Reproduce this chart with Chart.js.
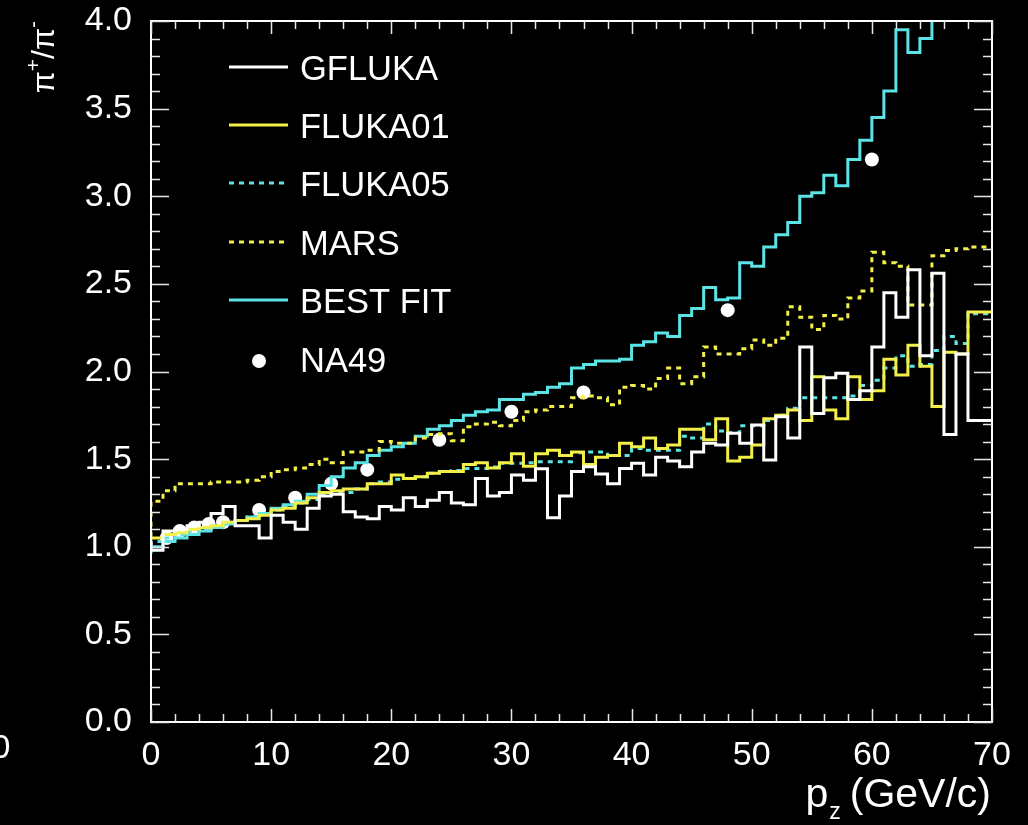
<!DOCTYPE html>
<html>
<head>
<meta charset="utf-8">
<script src="https://cdn.jsdelivr.net/npm/chart.js@4.4.1/dist/chart.umd.min.js"></script>
<style>
  html, body { margin: 0; padding: 0; background: #000; }
  #wrap { width: 1028px; height: 825px; }
</style>
</head>
<body>
<div id="wrap"><canvas id="c"></canvas></div>
<script>
// bin lower edges, 1 GeV/c bins from 0 to 70
const binEdges = Array.from({ length: 71 }, (_, i) => i);

const gfluka = [1.03, 0.98, 1.09, 1.10, 1.12, 1.14, 1.19, 1.23, 1.12, 1.12,
  1.05, 1.18, 1.14, 1.10, 1.22, 1.29, 1.30, 1.20, 1.17, 1.16,
  1.23, 1.21, 1.28, 1.23, 1.265, 1.31, 1.25, 1.24, 1.39, 1.29,
  1.31, 1.41, 1.38, 1.445, 1.165, 1.29, 1.43, 1.457, 1.415, 1.36,
  1.447, 1.476, 1.41, 1.51, 1.49, 1.457, 1.54, 1.59, 1.58, 1.647,
  1.59, 1.695, 1.495, 1.742, 1.62, 2.14, 1.76, 1.965, 1.99, 1.84,
  1.89, 2.14, 2.45, 2.31, 2.58, 2.09, 2.56, 1.64, 2.10, 1.72];

const fluka01 = [1.04, 1.05, 1.07, 1.08, 1.10, 1.11, 1.12, 1.14, 1.15, 1.16,
  1.18, 1.21, 1.22, 1.25, 1.28, 1.31, 1.32, 1.33, 1.33, 1.36,
  1.36, 1.41, 1.39, 1.40, 1.42, 1.43, 1.43, 1.47, 1.48, 1.45,
  1.48, 1.53, 1.46, 1.53, 1.55, 1.52, 1.54, 1.47, 1.51, 1.52,
  1.59, 1.57, 1.62, 1.56, 1.58, 1.67, 1.67, 1.61, 1.73, 1.49,
  1.51, 1.58, 1.73, 1.75, 1.78, 1.72, 1.97, 1.78, 1.73, 1.97,
  1.84, 1.89, 2.07, 1.98, 2.15, 2.03, 1.80, 2.11, 2.10, 2.34];

const fluka05 = [1.01, 1.03, 1.05, 1.07, 1.09, 1.10, 1.12, 1.14, 1.15, 1.17,
  1.19, 1.21, 1.23, 1.25, 1.27, 1.30, 1.31, 1.31, 1.33, 1.36,
  1.37, 1.385, 1.39, 1.40, 1.42, 1.43, 1.435, 1.447, 1.447, 1.455,
  1.476, 1.476, 1.48, 1.485, 1.485, 1.485, 1.537, 1.54, 1.54, 1.52,
  1.52, 1.56, 1.55, 1.55, 1.55, 1.63, 1.62, 1.70, 1.66, 1.65,
  1.69, 1.69, 1.72, 1.75, 1.79, 1.85, 1.85, 1.85, 1.85, 1.86,
  1.92, 1.95, 2.02, 2.09, 2.03, 2.04, 2.12, 2.20, 2.16, 2.33];

const mars = [1.00, 1.26, 1.32, 1.36, 1.36, 1.36, 1.37, 1.37, 1.37, 1.38,
  1.40, 1.43, 1.44, 1.45, 1.47, 1.50, 1.48, 1.54, 1.54, 1.55,
  1.60, 1.59, 1.59, 1.62, 1.64, 1.645, 1.605, 1.685, 1.70, 1.71,
  1.69, 1.72, 1.77, 1.78, 1.80, 1.80, 1.85, 1.86, 1.85, 1.81,
  1.91, 1.92, 1.90, 1.96, 2.02, 1.93, 1.97, 2.14, 2.10, 2.10,
  2.13, 2.18, 2.15, 2.19, 2.37, 2.31, 2.24, 2.32, 2.30, 2.42,
  2.46, 2.68, 2.62, 2.60, 2.38, 2.38, 2.66, 2.69, 2.70, 2.71];

const bestFit = [0.96, 1.00, 1.03, 1.05, 1.07, 1.09, 1.11, 1.13, 1.15, 1.17,
  1.19, 1.22, 1.24, 1.26, 1.30, 1.35, 1.40, 1.45, 1.48, 1.52,
  1.55, 1.57, 1.59, 1.63, 1.67, 1.69, 1.72, 1.75, 1.77, 1.78,
  1.84, 1.84, 1.87, 1.88, 1.91, 1.93, 2.02, 2.04, 2.06, 2.06,
  2.07, 2.15, 2.17, 2.22, 2.20, 2.32, 2.36, 2.48, 2.41, 2.42,
  2.62, 2.60, 2.71, 2.78, 2.85, 3.00, 3.02, 3.12, 3.06, 3.21,
  3.32, 3.45, 3.60, 3.95, 3.82, 3.90, 4.25, 4.40, 4.55, 4.70];

const na49X = [1.3, 2.4, 3.6, 4.8, 6, 9, 12, 15, 18, 24, 30, 36, 48, 60];
const na49Y = [1.05, 1.09, 1.11, 1.13, 1.14, 1.21, 1.28, 1.36, 1.44, 1.61, 1.77, 1.88, 2.35, 3.21];

const xTicks = [0, 10, 20, 30, 40, 50, 60, 70];
const yTicks = [0, 0.5, 1, 1.5, 2, 2.5, 3, 3.5, 4];

const WHITE = '#ffffff';
const YELLOW = '#f2ee4a';
const CYAN = '#5be3e6';
const FONT = '"Liberation Sans", Arial, Helvetica, sans-serif';

// histogram outline: value of bin i held from edge i to edge i+1
function hist(vals) {
  const pts = vals.map((v, i) => ({ x: binEdges[i], y: v }));
  pts.push({ x: binEdges[vals.length], y: vals[vals.length - 1] });
  return pts;
}

function histSet(label, vals, color, dash) {
  return {
    label, data: hist(vals), borderColor: color, borderWidth: 3,
    borderDash: dash || [], stepped: 'after', pointRadius: 0, fill: false
  };
}

const legendRows = [
  { text: 'GFLUKA', color: WHITE, dash: [] },
  { text: 'FLUKA01', color: YELLOW, dash: [] },
  { text: 'FLUKA05', color: CYAN, dash: [5, 5] },
  { text: 'MARS', color: YELLOW, dash: [5, 5] },
  { text: 'BEST FIT', color: CYAN, dash: [] },
  { text: 'NA49', color: WHITE, dot: true }
];

const rootFrame = {
  id: 'rootFrame',
  beforeDraw(chart) {
    const ctx = chart.ctx;
    ctx.save();
    ctx.fillStyle = '#000';
    ctx.fillRect(0, 0, chart.width, chart.height);
    ctx.restore();
  },
  afterDraw(chart) {
    const ctx = chart.ctx;
    const { left, right, top, bottom } = chart.chartArea;
    const xs = chart.scales.x, ys = chart.scales.y;
    ctx.save();
    ctx.strokeStyle = WHITE;
    ctx.lineWidth = 2;
    ctx.strokeRect(left, top, right - left, bottom - top);

    // inward ticks on all four sides
    ctx.lineWidth = 1.5;
    ctx.strokeStyle = '#e6e6e6';
    ctx.beginPath();
    for (let v = 0; v <= 70; v += 2) {
      const px = Math.round(xs.getPixelForValue(v)) + 0.5;
      const len = v % 10 === 0 ? 13 : 8;
      ctx.moveTo(px, bottom); ctx.lineTo(px, bottom - len);
      ctx.moveTo(px, top); ctx.lineTo(px, top + len);
    }
    for (let k = 0; k <= 40; k++) {
      const py = Math.round(ys.getPixelForValue(k / 10)) + 0.5;
      const len = k % 5 === 0 ? 18 : 9;
      ctx.moveTo(left, py); ctx.lineTo(left + len, py);
      ctx.moveTo(right, py); ctx.lineTo(right - len, py);
    }
    ctx.stroke();

    // legend
    ctx.font = '34.5px ' + FONT;
    ctx.textBaseline = 'middle';
    ctx.textAlign = 'left';
    const rowY = [70, 128, 186, 245, 303, 362];
    legendRows.forEach((r, i) => {
      const y = rowY[i];
      if (r.dot) {
        ctx.fillStyle = r.color;
        ctx.beginPath();
        ctx.arc(259, y - 1, 7, 0, Math.PI * 2);
        ctx.fill();
      } else {
        ctx.strokeStyle = r.color;
        ctx.lineWidth = 3;
        ctx.setLineDash(r.dash);
        ctx.beginPath();
        ctx.moveTo(229, y - 3); ctx.lineTo(288, y - 3);
        ctx.stroke();
        ctx.setLineDash([]);
      }
      ctx.fillStyle = WHITE;
      ctx.fillText(r.text, 300, y);
    });

    // y title: pi+/pi- rotated
    ctx.save();
    ctx.translate(54, 21);
    ctx.rotate(-Math.PI / 2);
    ctx.textBaseline = 'alphabetic';
    const big = '32px ' + FONT, small = '21px ' + FONT;
    const parts = [
      { t: '\u03c0', f: big, dy: 0 },
      { t: '+', f: small, dy: -14 },
      { t: '/', f: big, dy: 0 },
      { t: '\u03c0', f: big, dy: 0 },
      { t: '-', f: small, dy: -14 }
    ];
    let w = 0;
    parts.forEach(p => { ctx.font = p.f; w += ctx.measureText(p.t).width; });
    let x = -w;
    parts.forEach(p => {
      ctx.font = p.f;
      ctx.fillText(p.t, x, p.dy);
      x += ctx.measureText(p.t).width;
    });
    ctx.restore();

    // x title: p_z (GeV/c), right aligned at axis end
    ctx.textBaseline = 'alphabetic';
    ctx.textAlign = 'right';
    ctx.font = '41px ' + FONT;
    ctx.fillText('(GeV/c)', 991, 807);
    const wRest = ctx.measureText('(GeV/c)').width;
    ctx.font = '23px ' + FONT;
    ctx.fillText('z', 991 - wRest - 9, 819);
    const wz = ctx.measureText('z').width;
    ctx.font = '41px ' + FONT;
    ctx.fillText('p', 991 - wRest - 9 - wz - 1, 807);

    // clipped label of the neighbouring panel at the far left
    ctx.font = '34px ' + FONT;
    ctx.textAlign = 'center';
    ctx.textBaseline = 'middle';
    ctx.fillText('0', 1, 749);
    ctx.restore();
  }
};

new Chart(document.getElementById('c'), {
  type: 'line',
  data: {
    datasets: [
      histSet('GFLUKA', gfluka, WHITE),
      histSet('FLUKA01', fluka01, YELLOW),
      histSet('FLUKA05', fluka05, CYAN, [5, 5]),
      histSet('MARS', mars, YELLOW, [5, 5]),
      histSet('BEST FIT', bestFit, CYAN),
      {
        label: 'NA49', type: 'scatter',
        data: na49X.map((x, i) => ({ x, y: na49Y[i] })),
        showLine: false, pointRadius: 7, pointBackgroundColor: WHITE,
        pointBorderColor: WHITE, pointBorderWidth: 0
      }
    ]
  },
  options: {
    responsive: true,
    maintainAspectRatio: false,
    animation: false,
    events: [],
    layout: { padding: { left: 0, right: 36, top: 21, bottom: 0 } },
    plugins: { legend: { display: false }, tooltip: { enabled: false } },
    scales: {
      x: {
        type: 'linear', min: 0, max: 70,
        afterFit: s => { s.height = 103; s.paddingLeft = 0; s.paddingRight = 0; },
        afterBuildTicks: s => { s.ticks = xTicks.map(v => ({ value: v })); },
        grid: { display: false, drawTicks: false },
        border: { display: false },
        ticks: {
          color: WHITE, padding: 13, maxRotation: 0, autoSkip: false,
          font: { family: FONT, size: 34 },
          callback: v => String(v)
        }
      },
      y: {
        type: 'linear', min: 0, max: 4,
        afterFit: s => { s.width = 151; s.paddingTop = 0; s.paddingBottom = 0; },
        afterBuildTicks: s => { s.ticks = yTicks.map(v => ({ value: v })); },
        grid: { display: false, drawTicks: false },
        border: { display: false },
        ticks: {
          color: WHITE, padding: 19, autoSkip: false,
          font: { family: FONT, size: 34 },
          callback: v => Number(v).toFixed(1)
        }
      }
    }
  },
  plugins: [rootFrame]
});
</script>
</body>
</html>
